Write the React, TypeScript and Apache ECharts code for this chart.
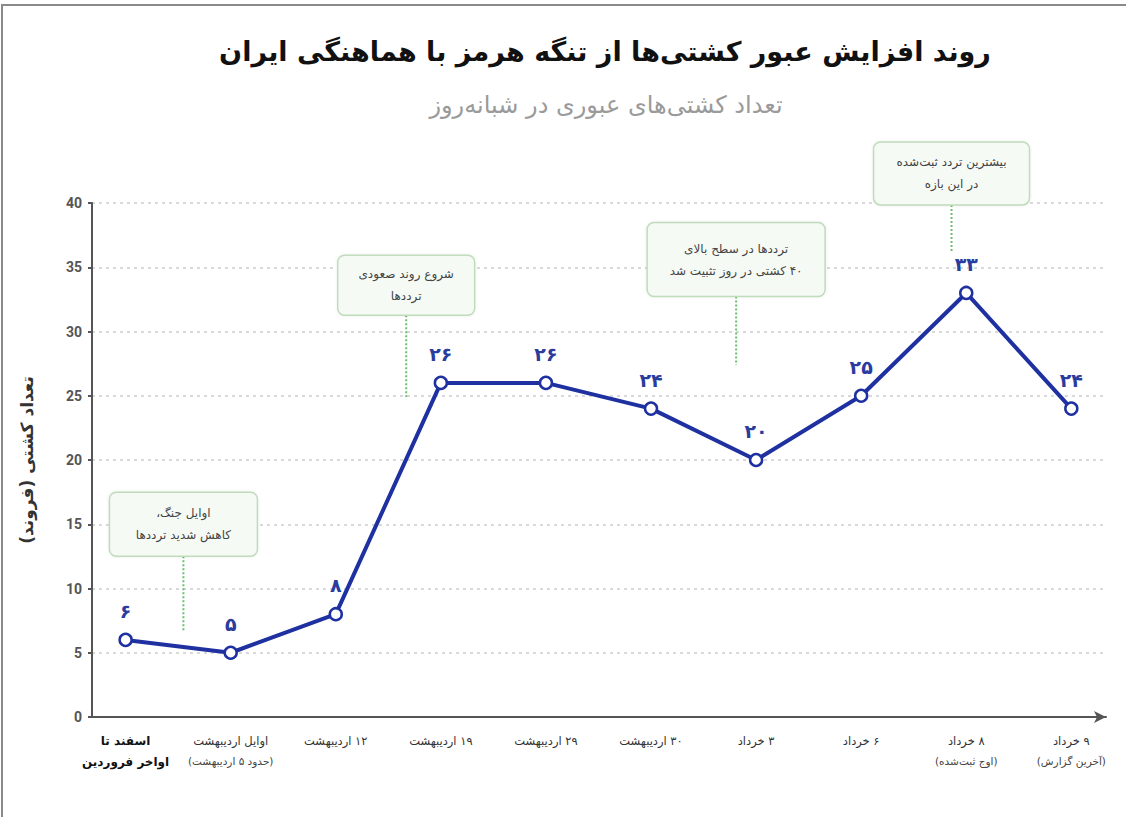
import React, { useEffect, useRef } from "react";
import * as echarts from "echarts";

// ---- data ----
const categoryMain = [
  "اسفند تا",
  "اوایل اردیبهشت",
  "۱۲ اردیبهشت",
  "۱۹ اردیبهشت",
  "۲۹ اردیبهشت",
  "۳۰ اردیبهشت",
  "۳ خرداد",
  "۶ خرداد",
  "۸ خرداد",
  "۹ خرداد",
];
const categorySub = [
  "اواخر فروردین",
  "(حدود ۵ اردیبهشت)",
  "",
  "",
  "",
  "",
  "",
  "",
  "(اوج ثبت‌شده)",
  "(آخرین گزارش)",
];
const shipCounts = [6, 5, 8, 26, 26, 24, 20, 25, 33, 24];

const annotationTexts = [
  "اوایل جنگ،\nکاهش شدید ترددها",
  "شروع روند صعودی\nترددها",
  "ترددها در سطح بالای\n۴۰ کشتی در روز تثبیت شد",
  "بیشترین تردد ثبت‌شده\nدر این بازه",
];
// annotation anchors in data units (x = category position, y = value)
const annotationX = [0.55, 2.67, 5.81, 7.86];
const annotationBoxY = [15, 33.6, 35.6, 42.3];
const annotationLineEndY = [6.6, 24.9, 27.4, 36.1];
const annotationBoxSize: number[][] = [
  [148, 64],
  [137, 60],
  [178, 74],
  [156, 63],
];

const TITLE = "روند افزایش عبور کشتی‌ها از تنگه هرمز با هماهنگی ایران";
const SUBTITLE = "تعداد کشتی‌های عبوری در شبانه‌روز";
const Y_NAME = "تعداد کشتی (فروند)";

const FA = "DejaVu Sans, Noto Sans, sans-serif";
const faDigits = "۰۱۲۳۴۵۶۷۸۹";
const toFa = (n: number) => String(n).replace(/\d/g, (d) => faDigits[+d]);
// force right-to-left ordering line by line (SVG text defaults to LTR)
const rtl = (s: string) =>
  s
    .split("\n")
    .map((l) => "\u202B" + l + "\u202C")
    .join("\n");

const LINE_COLOR = "#1f31a0";

export default function App() {
  const ref = useRef<HTMLDivElement>(null);
  useEffect(() => {
    document.body.style.margin = "0";
    const chart = echarts.init(ref.current!, undefined, { renderer: "svg" });
    const option: any = {
      animation: false,
      backgroundColor: "#ffffff",
      title: [
        {
          text: rtl(TITLE),
          left: 600,
          textAlign: "center",
          top: 33,
          textStyle: { fontFamily: FA, fontSize: 27, fontWeight: "bold", color: "#111" },
        },
        {
          text: rtl(SUBTITLE),
          left: 601,
          textAlign: "center",
          top: 88,
          textStyle: { fontFamily: FA, fontSize: 24, fontWeight: "normal", color: "#9a9a9a" },
        },
      ],
      grid: { left: 92, right: 20, top: 203, bottom: 100, containLabel: false },
      xAxis: {
        type: "value",
        min: -0.32,
        max: 9.33,
        splitLine: { show: false },
        axisTick: { show: false },
        axisLine: {
          onZero: false,
          lineStyle: { color: "#555", width: 2 },
          symbol: ["none", "arrow"],
          symbolSize: [9, 12],
        },
        axisLabel: {
          customValues: shipCounts.map((_, i) => i),
          margin: 13,
          formatter: (v: number) => {
            const i = Math.round(v);
            if (i === 0) return `{a|${rtl(categoryMain[0])}}\n{a|${rtl(categorySub[0])}}`;
            return categorySub[i]
              ? `{b|${rtl(categoryMain[i])}}\n{c|${rtl(categorySub[i])}}`
              : `{b|${rtl(categoryMain[i])}}`;
          },
          rich: {
            a: { fontFamily: FA, fontSize: 12, fontWeight: "bold", color: "#111", lineHeight: 21 },
            b: { fontFamily: FA, fontSize: 11.5, color: "#333", lineHeight: 21 },
            c: { fontFamily: FA, fontSize: 10.5, color: "#444", lineHeight: 19 },
          },
        },
      },
      yAxis: {
        type: "value",
        min: 0,
        max: 40,
        interval: 5,
        name: rtl(Y_NAME),
        nameLocation: "middle",
        nameRotate: 90,
        nameGap: 57,
        nameTextStyle: { fontFamily: FA, fontSize: 17, fontWeight: "bold", color: "#333" },
        axisLine: { show: true, onZero: false, lineStyle: { color: "#555", width: 2 } },
        axisTick: { show: true, length: 4, lineStyle: { color: "#555", width: 2 } },
        axisLabel: { fontFamily: "Roboto, sans-serif", fontSize: 14, fontWeight: "bold", color: "#555", margin: 10 },
        splitLine: { show: true, lineStyle: { color: "#d9d9d9", width: 2, type: [3, 4] } },
      },
      series: [
        {
          type: "line",
          data: shipCounts.map((v, i) => [i, v]),
          symbol: "circle",
          symbolSize: 12,
          lineStyle: { color: LINE_COLOR, width: 4 },
          itemStyle: { color: "#fff", borderColor: LINE_COLOR, borderWidth: 2.5 },
          label: {
            show: true,
            position: "top",
            distance: 12,
            fontFamily: FA,
            fontSize: 19,
            fontWeight: "bold",
            color: "#2a3d9e",
            formatter: (p: any) => toFa(p.value[1]),
          },
          z: 5,
        },
      ],
    };
    chart.setOption(option);

    const graphics: any[] = [];
    annotationTexts.forEach((txt, k) => {
      const [w, h] = annotationBoxSize[k];
      const c = chart.convertToPixel({ gridIndex: 0 }, [annotationX[k], annotationBoxY[k]]) as number[];
      const e = chart.convertToPixel({ gridIndex: 0 }, [annotationX[k], annotationLineEndY[k]]) as number[];
      graphics.push({
        type: "line",
        shape: { x1: c[0], y1: c[1] + h / 2, x2: c[0], y2: e[1] },
        style: { stroke: "#6cbf6a", lineWidth: 2, lineDash: [2, 2] },
        z: 1,
      });
      graphics.push({
        type: "rect",
        shape: { x: c[0] - w / 2, y: c[1] - h / 2, width: w, height: h, r: 7 },
        style: { fill: "#f5faf4", stroke: "#bfdcbb", lineWidth: 1.5, shadowBlur: 3, shadowColor: "rgba(0,0,0,0.08)" },
        z: 2,
      });
      graphics.push({
        type: "text",
        x: c[0],
        y: c[1],
        style: {
          text: rtl(txt),
          align: "center",
          verticalAlign: "middle",
          fontFamily: FA,
          fontSize: 12,
          lineHeight: 22,
          fill: "#444",
        },
        z: 3,
      });
    });
    chart.setOption({ graphic: graphics });

    return () => chart.dispose();
  }, []);

  return (
    <div style={{ position: "relative", width: 1126, height: 817 }}>
      <div ref={ref} style={{ width: 1126, height: 817 }} />
      <div
        style={{
          position: "absolute",
          left: 1,
          top: 4,
          right: 0,
          bottom: 0,
          borderTop: "2px solid #8a8a8a",
          borderLeft: "2px solid #8a8a8a",
          pointerEvents: "none",
        }}
      />
    </div>
  );
}
